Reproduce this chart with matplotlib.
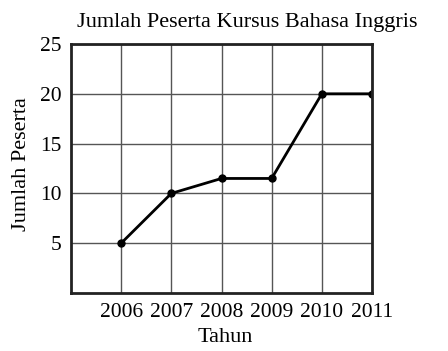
import matplotlib.pyplot as plt

# Data
tahun = [2006, 2007, 2008, 2009, 2010, 2011]
peserta = [5, 10, 11.5, 11.5, 20, 20]
y_ticks = [5, 10, 15, 20, 25]

plt.rcParams['font.family'] = ['Liberation Serif', 'DejaVu Serif']

fig = plt.figure(figsize=(4.48, 3.51), dpi=100)
ax = fig.add_axes([71/448, 1 - 293/351, (372 - 71)/448, (293 - 44)/351])

ax.plot(tahun, peserta, color='black', linewidth=2, marker='o', markersize=5)

ax.set_xlim(2005, 2011)
ax.set_ylim(0, 25)
ax.set_xticks(tahun)
ax.set_xticklabels([str(t) for t in tahun], fontsize=15.5)
ax.set_yticks(y_ticks)
ax.set_yticklabels([str(v) for v in y_ticks], fontsize=15.5)
ax.tick_params(length=0, pad=7)
ax.tick_params(axis='x', pad=7)

ax.grid(True, color='#555555', linewidth=1)
ax.set_axisbelow(True)
for s in ax.spines.values():
    s.set_linewidth(2)
    s.set_color('#222222')

fig.text(247/448, 1 - 22/351, 'Jumlah Peserta Kursus Bahasa Inggris',
         ha='center', va='center', fontsize=16)
fig.text(225/448, 1 - 338/351, 'Tahun', ha='center', va='center', fontsize=16)
fig.text(21/448, 1 - 164/351, 'Jumlah Peserta', ha='center', va='center',
         rotation=90, fontsize=16)

fig.savefig('out.png', dpi=100)
